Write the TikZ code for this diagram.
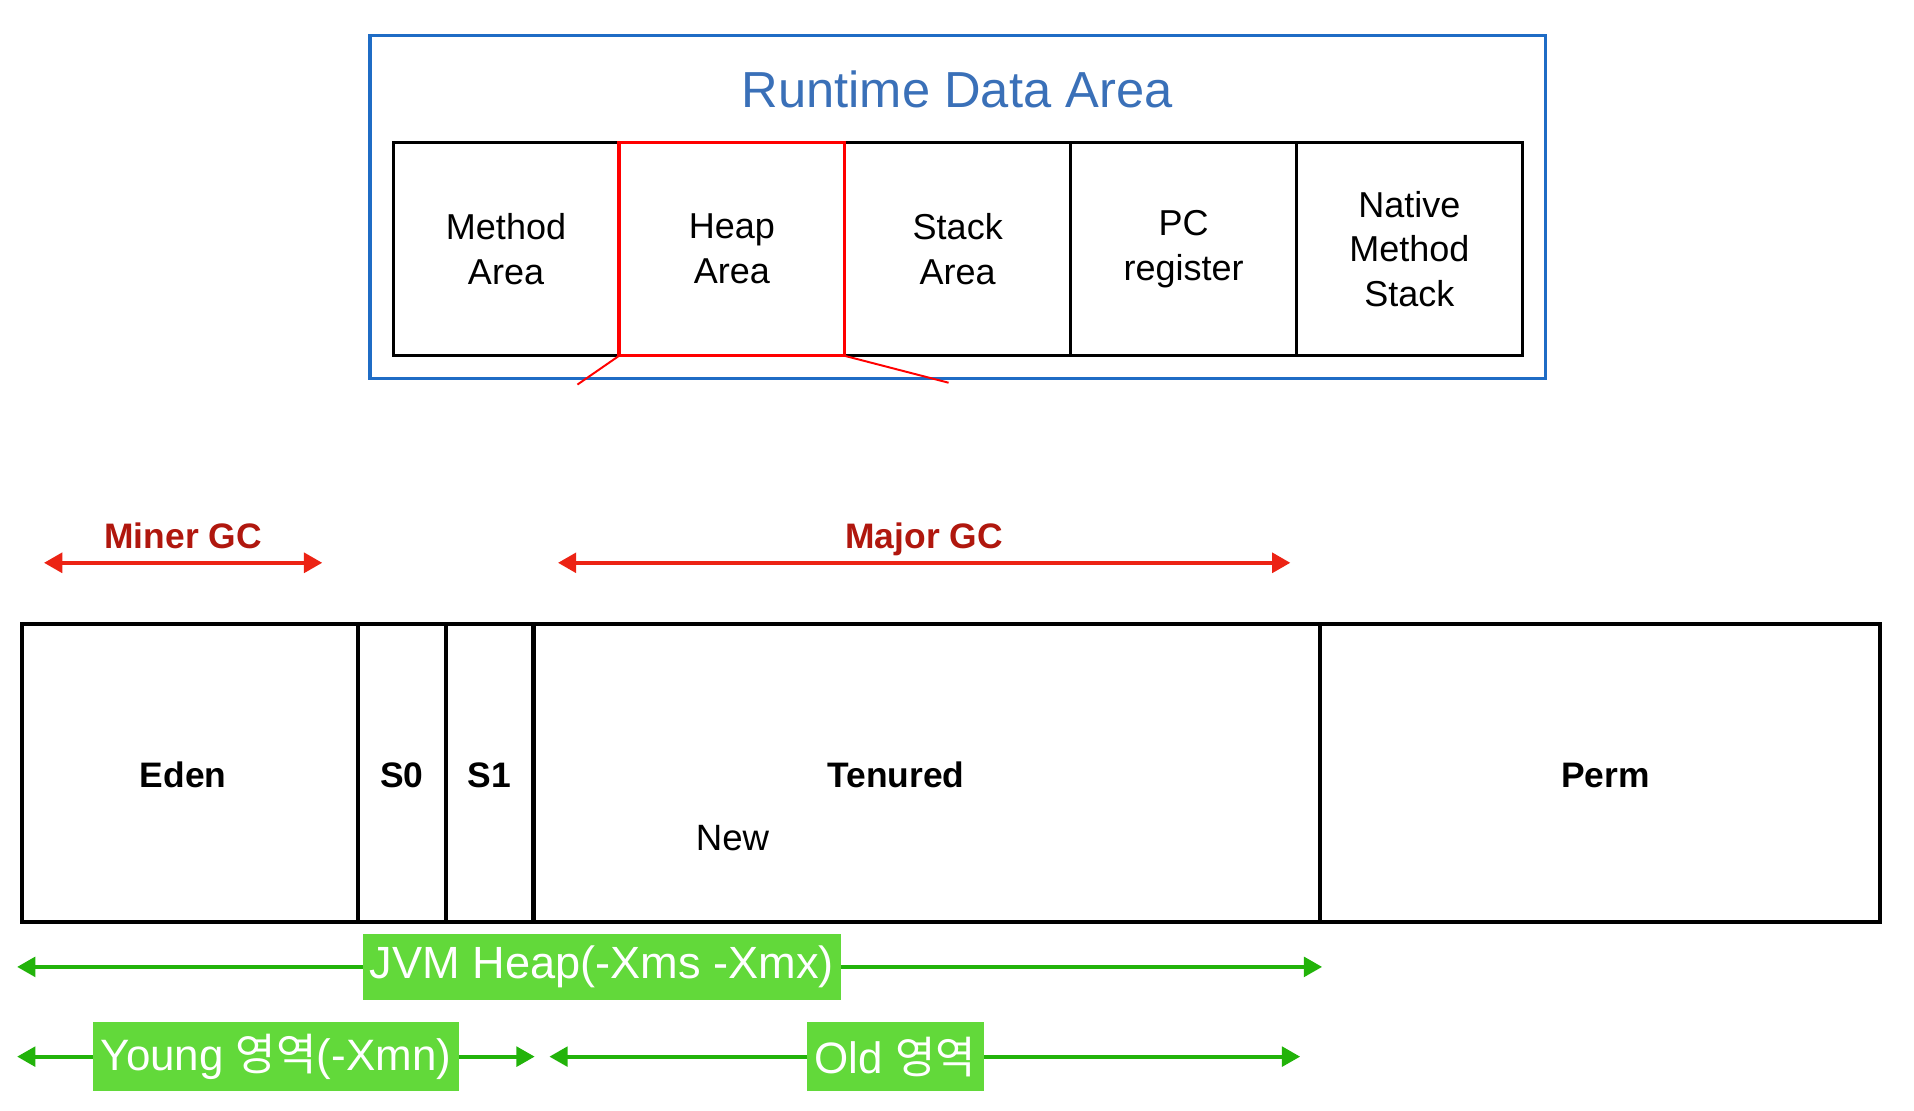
\documentclass[tikz,border=0pt]{standalone}
\usepackage{fontspec}
\setmainfont{Liberation Sans}
\newfontfamily\krfont{Noto Sans CJK KR}
\usetikzlibrary{arrows.meta}
\definecolor{rdblue}{HTML}{1F6CC5}
\definecolor{titleblue}{HTML}{3A70B8}
\definecolor{gcred}{HTML}{EC2314}
\definecolor{gctext}{HTML}{B0170E}
\definecolor{garrowc}{HTML}{22B30A}
\definecolor{gfill}{HTML}{62D93A}
\begin{document}
\begin{tikzpicture}[x=1pt,y=-1pt,
  cell/.style={draw=black,line width=2.6pt,minimum width=185pt,minimum height=175pt,
    inner sep=0pt,outer sep=0pt,align=center,font=\fontsize{29.5}{36.7}\selectfont},
  mcell/.style={draw=black,line width=3.3pt,minimum height=244pt,inner sep=0pt,outer sep=0pt},
  blabel/.style={anchor=base,inner sep=0pt,font=\fontsize{29}{34}\selectfont\bfseries},
  gclabel/.style={anchor=base,inner sep=0pt,text=gctext,font=\fontsize{29}{34}\selectfont\bfseries},
  redarrow/.style={draw=gcred,line width=3.5pt,{Triangle[length=15pt,width=16pt]}-{Triangle[length=15pt,width=16pt]}},
  greenarrow/.style={draw=garrowc,line width=3.3pt,{Triangle[length=15pt,width=16pt]}-{Triangle[length=15pt,width=16pt]}},
  gbox/.style={fill=gfill,text=white,inner sep=0pt,outer sep=0pt,font=\fontsize{36}{40}\selectfont},
]
\path[use as bounding box] (0,0) rectangle (1567.8,910);

% Runtime Data Area frame
\node[draw=rdblue,line width=3pt,minimum width=963pt,minimum height=281pt,inner sep=0pt,outer sep=0pt] (frame) at (784.5,169.5) {};
\node[anchor=base,inner sep=0pt,text=titleblue,font=\fontsize{41.5}{48}\selectfont] (title) at (784,88) {Runtime Data Area};

\node[cell] (method) at (414.5,204) {Method\\Area};
\node[cell] (stack) at (784.5,204) {Stack\\Area};
\node[cell] (pc) at (969.5,204) {PC\\register};
\node[cell] (native) at (1154.5,204) {Native\\Method\\Stack};
\node[cell,draw=red] (heap) at (599.5,204) {Heap\\Area};

\coordinate (hl) at (473,315);
\coordinate (hr) at (777,313.5);
\draw[red,line width=1.6pt] (heap.south west) -- (hl);
\draw[red,line width=1.6pt] (heap.south east) -- (hr);

% GC arrows
\coordinate (minl) at (36,461);
\coordinate (minr) at (264,461);
\coordinate (majl) at (457,461);
\coordinate (majr) at (1057,461);
\draw[redarrow] (minl) -- (minr);
\draw[redarrow] (majl) -- (majr);
\node[gclabel] (minergc) at (150,449) {Miner GC};
\node[gclabel] (majorgc) at (757,449) {Major GC};

% heap layout
\node[mcell,minimum width=275pt] (eden) at (155.5,633) {};
\node[mcell,minimum width=72pt] (s0) at (329,633) {};
\node[mcell,minimum width=72pt] (s1) at (401,633) {};
\node[mcell,minimum width=644pt] (tenured) at (759,633) {};
\node[mcell,minimum width=459pt] (perm) at (1310.5,633) {};

\node[blabel] (edenl) at (150,645) {Eden};
\node[blabel] (s0l) at (329,645) {S0};
\node[blabel] (s1l) at (401,645) {S1};
\node[blabel] (tenuredl) at (734,645) {Tenured};
\node[blabel] (perml) at (1315,645) {Perm};
\node[anchor=base,inner sep=0pt,font=\fontsize{30}{34}\selectfont] (newl) at (600,697) {New};

% green ranges
\coordinate (jvml) at (14,792);
\coordinate (jvmr) at (1083,792);
\draw[greenarrow] (jvml) -- (jvmr);
\node[gbox,minimum width=392pt,minimum height=54pt,font=\fontsize{37}{40}\selectfont] (jvm) at (493,792) {JVM Heap(-Xms -Xmx)};

\coordinate (youngl) at (14,865.5);
\coordinate (youngr) at (438,865.5);
\draw[greenarrow] (youngl) -- (youngr);
\node[gbox,minimum width=300pt,minimum height=57pt] (young) at (226,865.5) {Young {\krfont 영역}(-Xmn)};

\coordinate (oldl) at (450,865.5);
\coordinate (oldr) at (1065,865.5);
\draw[greenarrow] (oldl) -- (oldr);
\node[gbox,minimum width=145pt,minimum height=57pt] (old) at (733.5,865.5) {Old {\krfont 영역}};
\end{tikzpicture}
\end{document}
